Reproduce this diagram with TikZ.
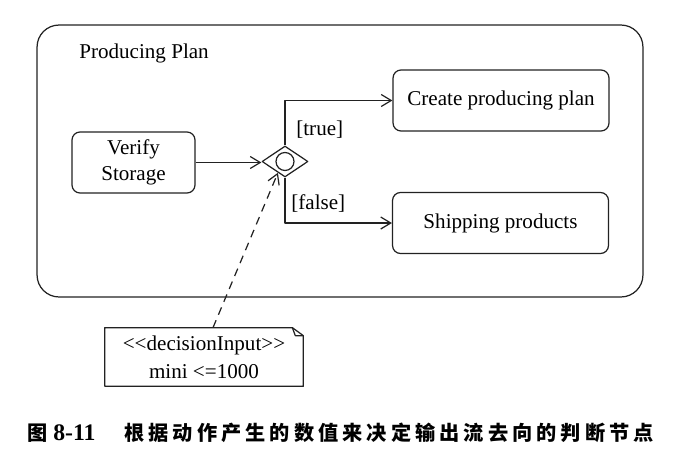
\documentclass[tikz,border=0pt]{standalone}
\usepackage{fontspec}
\setmainfont{Liberation Serif}
\newfontfamily\notefont{Liberation Serif}
\newfontfamily\capfont{Noto Sans CJK SC}
\newfontfamily\capwidefont{Noto Sans CJK SC}[LetterSpace=20]
\usepackage{xcolor}
\definecolor{UMLInk}{HTML}{222222}
\usetikzlibrary{arrows.meta,positioning,shapes.geometric,calc}

\begin{document}
\begin{tikzpicture}[x=0.02cm, y=-0.02cm,
        umlline/.style={line width=0.7pt, draw=UMLInk, line join=round},
        frame/.style={umlline, rectangle, rounded corners=0.44cm, minimum width=12.12cm, minimum height=5.44cm},
        action/.style={umlline, rectangle, rounded corners=1.6mm, minimum width=2.46cm, minimum height=1.22cm,
            inner sep=0pt, align=center, font=\fontsize{12}{14.5}\selectfont},
        decision/.style={umlline, diamond, aspect=1.5, minimum width=0.92cm, minimum height=0.62cm, inner sep=0pt},
        guard/.style={inner sep=0pt, font=\fontsize{12}{14.5}\selectfont},
        notebox/.style={rectangle, minimum width=3.96cm, minimum height=1.16cm, inner sep=0pt, align=center,
            font=\notefont\fontsize{12}{16}\selectfont},
        flow/.style={umlline, -{Straight Barb[length=2mm, width=2.4mm]}},
        dependency/.style={flow, dash pattern=on 1.6mm off 1.2mm},
        caption/.style={inner sep=0pt, text=black, font=\capfont\bfseries\fontsize{11.5}{12}\selectfont}
    ]
        \useasboundingbox (0,0) rectangle (682,456);

        % Activity frame
        \node[frame] (plan) at (340,161) {};
        \node[guard, anchor=west] (plantitle) at (79,53) {Producing Plan};

        % Actions and the decision node
        \node[action] (verify) at (133.5,162.5) {Verify\\Storage};
        \node[decision] (decide) at (285,161.5) {};
        \node[umlline, circle, minimum size=0.36cm, inner sep=0pt] (decidemark) at (decide) {};
        \node[action, minimum width=4.32cm] (create) at (501,100.5) {Create producing plan};
        \node[action, minimum width=4.32cm] (ship) at (500.5,223) {Shipping products};

        % Control flows with guards
        \draw[flow] (verify.east) -- (verify.east -| decide.west);
        \draw[flow] (decide.north) |- (create.west);
        \draw[flow] (decide.south) |- (ship.west);
        \node[guard, anchor=west] (guardtrue) at (296,130) {[true]};
        \node[guard, anchor=west] (guardfalse) at (291,203) {[false]};

        % Decision input note with folded corner
        \node[notebox] (inputnote) at (204,357) {<<decisionInput>>\\mini <=1000};
        \draw[umlline] (inputnote.south west) |- ($(inputnote.north east)+(-11,0)$)
            -- ($(inputnote.north east)+(0,8)$) |- (inputnote.south west);
        \draw[umlline] ($(inputnote.north east)+(-11,0)$) -- ($(inputnote.north east)+(-8,8)$)
            -- ($(inputnote.north east)+(0,8)$);
        \draw[dependency] ($(inputnote.north)+(9,0)$) -- ($(decide.south)!0.3!(decide.west)$);

        % Caption
        \node[caption, anchor=west] (figtag) at (27,433) {图};
        \node[inner sep=0pt, anchor=west, font=\bfseries\fontsize{13.5}{14}\selectfont] (fignum) at (53,433) {8-11};
        \node[caption, anchor=west, font=\capwidefont\bfseries\fontsize{11.5}{12}\selectfont] (figtext) at (124,433)
            {根据动作产生的数值来决定输出流去向的判断节点};
    \end{tikzpicture}
\end{document}
